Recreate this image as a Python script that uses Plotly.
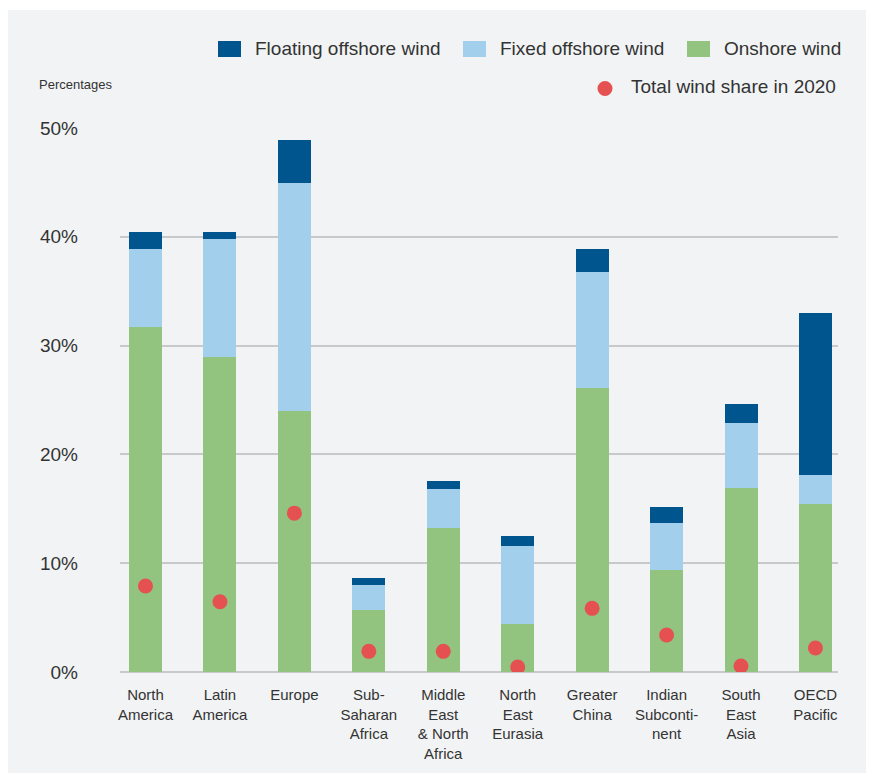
import plotly.graph_objects as go

regions = ["North<br>America", "Latin<br>America", "Europe", "Sub-<br>Saharan<br>Africa",
           "Middle<br>East<br>& North<br>Africa", "North<br>East<br>Eurasia", "Greater<br>China",
           "Indian<br>Subconti-<br>nent", "South<br>East<br>Asia", "OECD<br>Pacific"]
onshore = [31.7, 28.95, 24.0, 5.7, 13.2, 4.4, 26.1, 9.4, 16.9, 15.4]
fixed_offshore = [7.2, 10.85, 20.9, 2.3, 3.6, 7.2, 10.7, 4.3, 6.0, 2.7]
floating_offshore = [1.5, 0.6, 4.0, 0.6, 0.8, 0.9, 2.1, 1.5, 1.7, 14.9]
total_2020 = [7.9, 6.45, 14.6, 1.9, 1.9, 0.45, 5.85, 3.4, 0.55, 2.2]
y_ticks = [0, 10, 20, 30, 40, 50]
y_tick_labels = ["0%", "10%", "20%", "30%", "40%", "50%"]

C_FLOAT = "#00558f"
C_FIXED = "#a2cfec"
C_ON = "#92c47f"
C_DOT = "#e55150"
BG = "#f2f3f5"
GRID = "#c8c9cb"
TXT = "#333333"
FONT = "Liberation Sans, Arial, sans-serif"

OFF = 8  # page margin of the browser
W, H = 874, 773
L, R, T, B = 112, 44, 120, 109
PW, PH = W - L - R, H - T - B


def px(x):
    return (x - OFF - L) / PW


def py(y):
    return (H - B - (y - OFF)) / PH


BW = 0.443
fig = go.Figure()
fig.add_trace(go.Bar(x=regions, y=onshore, name="Onshore wind", marker_color=C_ON,
                     marker_line_width=0, width=BW, showlegend=False))
fig.add_trace(go.Bar(x=regions, y=fixed_offshore, name="Fixed offshore wind", marker_color=C_FIXED,
                     marker_line_width=0, width=BW, showlegend=False))
fig.add_trace(go.Bar(x=regions, y=floating_offshore, name="Floating offshore wind", marker_color=C_FLOAT,
                     marker_line_width=0, width=BW, showlegend=False))
fig.add_trace(go.Scatter(x=regions, y=total_2020, mode="markers", name="Total wind share in 2020",
                         marker=dict(color=C_DOT, size=15, line_width=0), showlegend=False))

shapes = [
    dict(type="rect", xref="paper", yref="paper", x0=px(-10), x1=px(W + 20), y0=py(10), y1=py(-10),
         fillcolor="white", line_width=0, layer="below"),
]
legend_items = [
    (218, 253, C_FLOAT, "Floating offshore wind"),
    (463, 498, C_FIXED, "Fixed offshore wind"),
    (687, 722, C_ON, "Onshore wind"),
]
annotations = []
for sx, tx, col, label in legend_items:
    shapes.append(dict(type="rect", xref="paper", yref="paper", x0=px(sx), x1=px(sx + 23),
                       y0=py(57), y1=py(41), fillcolor=col, line_width=0))
    annotations.append(dict(text=label, xref="paper", yref="paper", x=px(tx), y=py(48),
                            xanchor="left", yanchor="middle", showarrow=False,
                            font=dict(size=19, color=TXT, family=FONT)))
shapes.append(dict(type="circle", xref="paper", yref="paper", x0=px(597.5), x1=px(612.5),
                   y0=py(96), y1=py(81), fillcolor=C_DOT, line_width=0))
annotations.append(dict(text="Total wind share in 2020", xref="paper", yref="paper", x=px(629), y=py(87),
                        xanchor="left", yanchor="middle", showarrow=False,
                        font=dict(size=19, color=TXT, family=FONT)))
annotations.append(dict(text="Percentages", xref="paper", yref="paper", x=px(37), y=py(85),
                        xanchor="left", yanchor="middle", showarrow=False,
                        font=dict(size=13, color=TXT, family=FONT)))

fig.update_layout(
    width=W, height=H, margin=dict(l=L, r=R, t=T, b=B, autoexpand=False),
    paper_bgcolor=BG, plot_bgcolor=BG,
    barmode="stack",
    font=dict(family=FONT, color=TXT),
    shapes=shapes, annotations=annotations,
    xaxis=dict(type="category", range=[-0.3426, 9.303], showgrid=False, showline=False,
               zeroline=False, ticks="", tickfont=dict(size=15, color=TXT, family=FONT),
               ticklabelstandoff=12, fixedrange=True),
    yaxis=dict(range=[0, 50], tickvals=y_ticks, ticktext=y_tick_labels, showgrid=True, gridcolor=GRID,
               gridwidth=1.5, zeroline=True, zerolinecolor=GRID, zerolinewidth=1.5, showline=False,
               ticks="", tickfont=dict(size=19, color=TXT, family=FONT), ticklabelstandoff=41,
               fixedrange=True),
)

fig.write_html("out.html")
